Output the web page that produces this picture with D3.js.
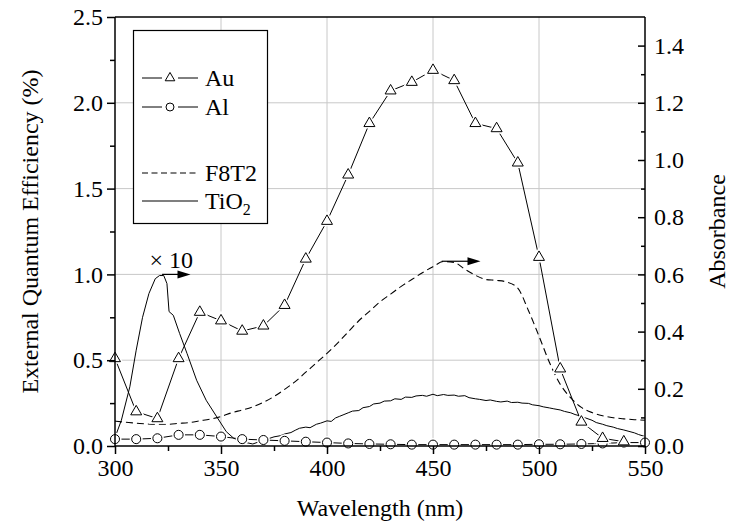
<!DOCTYPE html>
<html>
<head>
<meta charset="utf-8">
<script src="https://cdn.jsdelivr.net/npm/d3@7/dist/d3.min.js"></script>
<style>
  body { margin: 0; background: #fff; }
</style>
</head>
<body>
<div id="chart"></div>
<script>
// EQE (%) , left axis
var auWave = [300, 310, 320, 330, 340, 350, 360, 370, 380, 390, 400, 410, 420, 430, 440, 450, 460, 470, 480, 490, 500, 510, 520, 530, 540];
var auEqe = [0.51, 0.20, 0.16, 0.51, 0.78, 0.73, 0.67, 0.70, 0.82, 1.09, 1.31, 1.58, 1.88, 2.07, 2.12, 2.19, 2.13, 1.88, 1.85, 1.65, 1.10, 0.45, 0.14, 0.045, 0.025];

var alWave = [300, 310, 320, 330, 340, 350, 360, 370, 380, 390, 400, 410, 420, 430, 440, 450, 460, 470, 480, 490, 500, 510, 520, 530, 540, 550];
var alEqe = [0.04, 0.04, 0.045, 0.065, 0.065, 0.055, 0.04, 0.035, 0.03, 0.025, 0.02, 0.015, 0.012, 0.01, 0.008, 0.008, 0.008, 0.008, 0.008, 0.008, 0.01, 0.01, 0.012, 0.015, 0.02, 0.02];

// absorbance, right axis
var f8t2Wave = [300, 305, 310, 315, 320, 325, 330, 335, 340, 345, 350, 355, 360, 365, 370, 375, 380, 385, 390, 395, 400, 405, 410, 415, 420, 425, 430, 435, 440, 445, 450, 455, 460, 465, 470, 475, 480, 485, 490, 495, 500, 505, 510, 515, 520, 525, 530, 535, 540, 545, 550];
var f8t2Abs = [0.087, 0.083, 0.080, 0.077, 0.076, 0.076, 0.079, 0.082, 0.088, 0.094, 0.103, 0.116, 0.126, 0.137, 0.153, 0.173, 0.198, 0.225, 0.258, 0.291, 0.324, 0.360, 0.399, 0.438, 0.471, 0.504, 0.531, 0.558, 0.582, 0.606, 0.627, 0.645, 0.642, 0.618, 0.597, 0.582, 0.579, 0.573, 0.552, 0.474, 0.384, 0.291, 0.216, 0.168, 0.135, 0.117, 0.106, 0.099, 0.095, 0.092, 0.090];

var tio2Wave = [300, 303, 307, 310, 313, 316, 319, 321, 323, 324.5, 325.5, 327.5, 330.5, 334, 338.5, 343, 348, 352.5, 356, 360, 365, 368, 370, 373, 375, 378, 380, 383, 385, 387, 390, 392, 395, 397, 400, 402, 404, 406, 408, 410, 412, 415, 417, 420, 422, 425, 427, 430, 432, 435, 437, 440, 442, 445, 447, 450, 452, 455, 457, 460, 462, 465, 467, 470, 472, 475, 477, 480, 482, 485, 487, 490, 492, 495, 497, 500, 502, 505, 507, 510, 512, 515, 517, 520, 522, 525, 527, 530, 532, 535, 537, 540, 542, 545, 547, 550];
var tio2Abs = [0.030, 0.090, 0.207, 0.335, 0.450, 0.533, 0.585, 0.596, 0.596, 0.568, 0.470, 0.457, 0.393, 0.323, 0.230, 0.160, 0.102, 0.050, 0.027, 0.015, 0.007, 0.015, 0.020, 0.027, 0.032, 0.036, 0.042, 0.047, 0.055, 0.062, 0.066, 0.064, 0.076, 0.080, 0.088, 0.086, 0.098, 0.104, 0.110, 0.116, 0.122, 0.124, 0.134, 0.138, 0.147, 0.150, 0.157, 0.158, 0.165, 0.163, 0.171, 0.170, 0.175, 0.177, 0.174, 0.181, 0.176, 0.180, 0.177, 0.178, 0.174, 0.176, 0.169, 0.165, 0.163, 0.159, 0.161, 0.156, 0.154, 0.157, 0.152, 0.153, 0.150, 0.149, 0.144, 0.141, 0.137, 0.133, 0.130, 0.126, 0.121, 0.116, 0.110, 0.104, 0.098, 0.090, 0.082, 0.076, 0.071, 0.066, 0.061, 0.056, 0.052, 0.046, 0.040, 0.033, 0.027];

var xTicks = [300, 350, 400, 450, 500, 550];
var xMinor = [325, 375, 425, 475, 525];
var eqeTicks = [0, 0.5, 1.0, 1.5, 2.0, 2.5];
var eqeMinor = [0.25, 0.75, 1.25, 1.75, 2.25];
var absTicks = [0, 0.2, 0.4, 0.6, 0.8, 1.0, 1.2, 1.4];
var absMinor = [0.1, 0.3, 0.5, 0.7, 0.9, 1.1, 1.3];
var gridX = [350, 400, 450, 500];
var gridY = [0.5, 1.0, 1.5, 2.0];

var legendNames = ["Au", "Al", "F8T2", "TiO"];

// arrows: [x0, x1, y in absorbance]
var arrows = [[322.2, 335.6, 0.60], [454.1, 472.4, 0.646]];

var FONT = "Liberation Serif";
var width = 730, height = 527;
var margin = {top: 17, right: 85, bottom: 81, left: 115};

var svg = d3.select("#chart").append("svg")
  .attr("width", width)
  .attr("height", height);

var x = d3.scaleLinear().domain([300, 550]).range([margin.left, width - margin.right]);
var yL = d3.scaleLinear().domain([0, 2.5]).range([height - margin.bottom, margin.top]);
var yR = d3.scaleLinear().domain([0, 1.5]).range([height - margin.bottom, margin.top]);

var x0 = margin.left, x1 = width - margin.right;
var yb = height - margin.bottom, yt = margin.top;

// grid
svg.append("g").selectAll("line.gx")
  .data(gridX).enter().append("line")
  .attr("x1", function(d) { return x(d); })
  .attr("x2", function(d) { return x(d); })
  .attr("y1", yt).attr("y2", yb)
  .attr("stroke", "#c8c8c8").attr("stroke-width", 1);
svg.append("g").selectAll("line.gy")
  .data(gridY).enter().append("line")
  .attr("y1", function(d) { return yL(d); })
  .attr("y2", function(d) { return yL(d); })
  .attr("x1", x0).attr("x2", x1)
  .attr("stroke", "#c8c8c8").attr("stroke-width", 1);

var plot = svg.append("g");

// F8T2 dashed
plot.append("path")
  .datum(f8t2Wave.map(function(w, i) { return [w, f8t2Abs[i]]; }))
  .attr("fill", "none").attr("stroke", "#000").attr("stroke-width", 1.1)
  .attr("stroke-dasharray", "7,4")
  .attr("d", d3.line().curve(d3.curveMonotoneX)
    .x(function(d) { return x(d[0]); })
    .y(function(d) { return yR(d[1]); }));

// TiO2 solid
plot.append("path")
  .datum(tio2Wave.map(function(w, i) { return [w, tio2Abs[i]]; }))
  .attr("fill", "none").attr("stroke", "#000").attr("stroke-width", 1)
  .attr("d", d3.line()
    .x(function(d) { return x(d[0]); })
    .y(function(d) { return yR(d[1]); }));

var tri = d3.symbol().type(d3.symbolTriangle).size(52);
var circ = d3.symbol().type(d3.symbolCircle).size(64);

function series(waves, vals, sym) {
  var pts = waves.map(function(w, i) { return [w, vals[i]]; });
  plot.append("path")
    .datum(pts)
    .attr("fill", "none").attr("stroke", "#000").attr("stroke-width", 1)
    .attr("d", d3.line()
      .x(function(d) { return x(d[0]); })
      .y(function(d) { return yL(d[1]); }));
  var g = plot.append("g");
  g.selectAll("path.halo").data(pts).enter().append("path")
    .attr("d", sym)
    .attr("transform", function(d) { return "translate(" + x(d[0]) + "," + yL(d[1]) + ")"; })
    .attr("fill", "#fff").attr("stroke", "#fff").attr("stroke-width", 4);
  g.selectAll("path.mk").data(pts).enter().append("path")
    .attr("d", sym)
    .attr("transform", function(d) { return "translate(" + x(d[0]) + "," + yL(d[1]) + ")"; })
    .attr("fill", "#fff").attr("stroke", "#000").attr("stroke-width", 1);
}
series(alWave, alEqe, circ);
series(auWave, auEqe, tri);

// arrows and x10 note
arrows.forEach(function(a) {
  var ax0 = x(a[0]), ax1 = x(a[1]), ay = yR(a[2]);
  svg.append("line")
    .attr("x1", ax0).attr("x2", ax1 - 10).attr("y1", ay).attr("y2", ay)
    .attr("stroke", "#000").attr("stroke-width", 1.2);
  svg.append("path")
    .attr("d", "M" + ax1 + "," + ay + "L" + (ax1 - 13) + "," + (ay - 4) + "L" + (ax1 - 13) + "," + (ay + 4) + "Z")
    .attr("fill", "#000");
});
svg.append("text")
  .attr("x", x(326.5)).attr("y", yR(0.621))
  .attr("text-anchor", "middle")
  .attr("font-family", FONT).attr("font-size", 24)
  .text("\u00d7 10");

// frame
svg.append("line").attr("x1", x0).attr("x2", x1).attr("y1", yt).attr("y2", yt)
  .attr("stroke", "#000").attr("stroke-width", 1.5);
svg.append("line").attr("x1", x0).attr("x2", x1).attr("y1", yb).attr("y2", yb)
  .attr("stroke", "#000").attr("stroke-width", 1.5);
svg.append("line").attr("x1", x0).attr("x2", x0).attr("y1", yt).attr("y2", yb)
  .attr("stroke", "#000").attr("stroke-width", 1.5);
svg.append("line").attr("x1", x1).attr("x2", x1).attr("y1", yt).attr("y2", yb)
  .attr("stroke", "#000").attr("stroke-width", 1.5);

// bottom axis
svg.append("g").attr("transform", "translate(0," + yb + ")")
  .call(d3.axisBottom(x).tickValues(xTicks).tickSize(8).tickPadding(5).tickFormat(d3.format("d")));
svg.append("g").attr("transform", "translate(0," + yb + ")")
  .call(d3.axisBottom(x).tickValues(xMinor).tickSize(5).tickFormat(""));

// left axis
svg.append("g").attr("transform", "translate(" + x0 + ",0)")
  .call(d3.axisLeft(yL).tickValues(eqeTicks).tickSize(8).tickPadding(4).tickFormat(d3.format(".1f")));
svg.append("g").attr("transform", "translate(" + x0 + ",0)")
  .call(d3.axisLeft(yL).tickValues(eqeMinor).tickSize(5).tickFormat(""));

// right axis, ticks inward
svg.append("g").attr("transform", "translate(" + x1 + ",0)")
  .call(d3.axisRight(yR).tickValues(absTicks).tickSize(-7).tickPadding(9).tickFormat(d3.format(".1f")));
svg.append("g").attr("transform", "translate(" + x1 + ",0)")
  .call(d3.axisRight(yR).tickValues(absMinor).tickSize(-4).tickFormat(""));

svg.selectAll(".domain").remove();
svg.selectAll(".tick line").attr("stroke", "#000").attr("stroke-width", 1.5);
svg.selectAll(".tick text")
  .attr("font-family", FONT).attr("font-size", 24).attr("fill", "#000");

// axis titles
svg.append("text")
  .attr("x", (x0 + x1) / 2).attr("y", 516)
  .attr("text-anchor", "middle")
  .attr("font-family", FONT).attr("font-size", 24)
  .text("Wavelength (nm)");
svg.append("text")
  .attr("transform", "translate(38," + ((yt + yb) / 2) + ") rotate(-90)")
  .attr("text-anchor", "middle")
  .attr("font-family", FONT).attr("font-size", 24)
  .text("External Quantum Efficiency (%)");
svg.append("text")
  .attr("transform", "translate(725," + ((yt + yb) / 2) + ") rotate(-90)")
  .attr("text-anchor", "middle")
  .attr("font-family", FONT).attr("font-size", 24)
  .text("Absorbance");

// legend
var lg = svg.append("g");
lg.append("rect")
  .attr("x", 133.5).attr("y", 30.5).attr("width", 134).attr("height", 193)
  .attr("fill", "#fff").attr("stroke", "#000").attr("stroke-width", 1.2);
var legY = [78, 107, 173, 201];
legendNames.forEach(function(name, i) {
  var ly = legY[i];
  var row = lg.append("g");
  if (i < 2) {
    row.append("line").attr("x1", 142).attr("x2", 162).attr("y1", ly).attr("y2", ly)
      .attr("stroke", "#000").attr("stroke-width", 1);
    row.append("line").attr("x1", 178).attr("x2", 198).attr("y1", ly).attr("y2", ly)
      .attr("stroke", "#000").attr("stroke-width", 1);
    row.append("path")
      .attr("d", i === 0 ? d3.symbol().type(d3.symbolTriangle).size(40)() : d3.symbol().type(d3.symbolCircle).size(50)())
      .attr("transform", "translate(170," + ly + ")")
      .attr("fill", "#fff").attr("stroke", "#000").attr("stroke-width", 1);
  } else {
    row.append("line").attr("x1", 142).attr("x2", 198).attr("y1", ly).attr("y2", ly)
      .attr("stroke", "#000").attr("stroke-width", 1.1)
      .attr("stroke-dasharray", i === 2 ? "6,3.5" : null);
  }
  var t = row.append("text").attr("x", 205).attr("y", ly).attr("dy", "0.35em")
    .attr("font-family", FONT).attr("font-size", 24).text(name);
  if (i === 3) {
    t.append("tspan").attr("dy", "6").attr("font-size", 16).text("2");
  }
});
</script>
</body>
</html>
